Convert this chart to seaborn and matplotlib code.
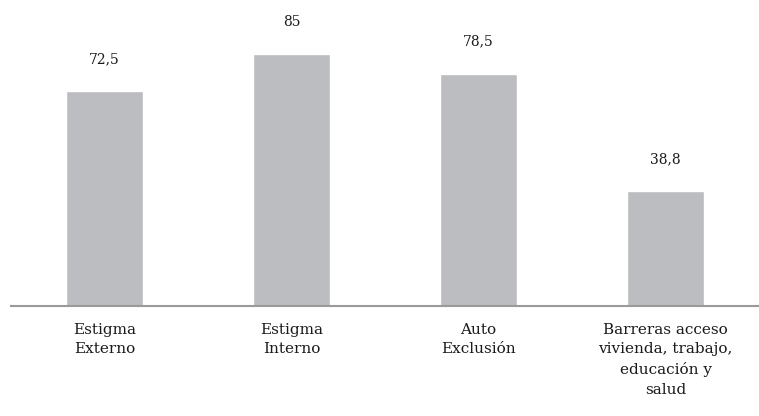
import matplotlib
matplotlib.use("Agg")
import matplotlib.pyplot as plt
import seaborn as sns
import pandas as pd

categories = ["Estigma\nExterno", "Estigma\nInterno", "Auto\nExclusión",
              "Barreras acceso\nvivienda, trabajo,\neducación y\nsalud"]
values = [72.5, 85, 78.5, 38.8]
value_labels = ["72,5", "85", "78,5", "38,8"]

sns.set_theme(style="white")
plt.rcParams["font.family"] = ["DejaVu Serif"]

df = pd.DataFrame({"cat": categories, "val": values})

fig = plt.figure(figsize=(7.59, 4.16), dpi=100)
ax = fig.add_axes([11 / 759, 1 - 306 / 416, 748 / 759, 296 / 416])
sns.barplot(data=df, x="cat", y="val", color="#bcbdc0", saturation=1,
            width=0.41, ax=ax)

ax.set_ylim(0, 100)
ax.set_xlim(-0.5, 3.5)
for s in ["top", "right", "left"]:
    ax.spines[s].set_visible(False)
ax.spines["bottom"].set_color("#9a9a9a")
ax.spines["bottom"].set_linewidth(1.5)
ax.set_yticks([])
ax.set_xlabel("")
ax.set_ylabel("")
ax.tick_params(axis="x", length=0, pad=12)
for t in ax.get_xticklabels():
    t.set_fontsize(11)
    t.set_linespacing(1.5)
    t.set_color("#1a1a1a")
    t.set_multialignment("center")

for patch, lab in zip(ax.patches, value_labels):
    ax.annotate(lab, (patch.get_x() + patch.get_width() / 2, patch.get_height()),
                xytext=(0, 18), textcoords="offset points",
                ha="center", va="bottom", fontsize=10, color="#1a1a1a")

fig.savefig("out.png", dpi=100)
